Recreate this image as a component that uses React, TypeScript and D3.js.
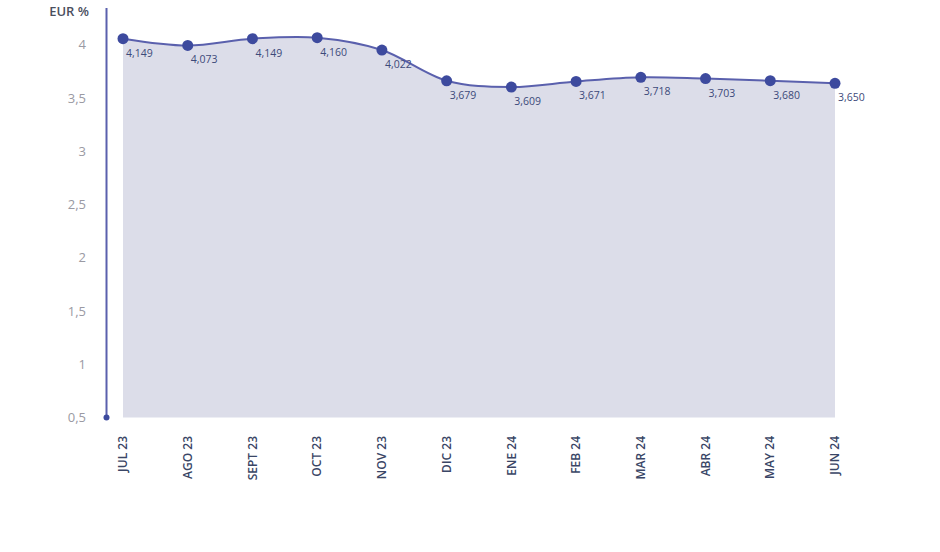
import React from "react";
import * as d3 from "d3";

const months = ["JUL 23", "AGO 23", "SEPT 23", "OCT 23", "NOV 23", "DIC 23", "ENE 24", "FEB 24", "MAR 24", "ABR 24", "MAY 24", "JUN 24"];
const rates = [4.149, 4.073, 4.149, 4.16, 4.022, 3.679, 3.609, 3.671, 3.718, 3.703, 3.68, 3.65];
const yTicks = [0.5, 1, 1.5, 2, 2.5, 3, 3.5, 4];
const yTitle = "EUR %";

const W = 940;
const H = 552;

const fmt = (v: number) => {
  const s = String(v);
  return s.replace(".", ",");
};
const fmtVal = (v: number) => v.toFixed(3).replace(".", ",");

export default function App() {
  const x = d3.scalePoint<string>().domain(months).range([123, 835]);
  // axis scale (tick positions)
  const yAxis = d3.scaleLinear().domain([0.5, 4]).range([417.5, 44.7]);
  // scale used for the plotted series (as drawn in the reference)
  const yLine = d3.scaleLinear().domain([3.5, 4.2]).range([96.8, 34.1]);

  const pts = months.map((m, i) => ({ m, v: rates[i], px: x(m) as number, py: yLine(rates[i]) }));

  const curve = d3.curveCardinal.tension(0);
  const line = d3.line<typeof pts[0]>().x((d) => d.px).y((d) => d.py).curve(curve);
  const area = d3
    .area<typeof pts[0]>()
    .x((d) => d.px)
    .y0(yAxis(0.5))
    .y1((d) => d.py)
    .curve(curve);

  const font = "'Open Sans', 'Noto Sans', sans-serif";

  return (
    <svg width={W} height={H} style={{ position: "absolute", left: 0, top: 0, background: "#fff" }} fontFamily={font}>
      <path d={area(pts) || ""} fill="#dcdde9" />
      <path d={line(pts) || ""} fill="none" stroke="#5a60ad" strokeWidth={2} />

      {/* y axis */}
      <line x1={106.5} x2={106.5} y1={8} y2={yAxis(0.5)} stroke="#5a60ad" strokeWidth={2} />
      <circle cx={106.5} cy={yAxis(0.5)} r={3} fill="#3d4a9e" />
      <text x={89} y={16} textAnchor="end" fontSize={13} fontWeight={600} fill="#4a4f5e">
        {yTitle}
      </text>
      {yTicks.map((t) => (
        <text key={t} x={86} y={yAxis(t)} dy="0.35em" textAnchor="end" fontSize={13} fill="#9a9aa3">
          {fmt(t)}
        </text>
      ))}

      {pts.map((p) => (
        <g key={p.m}>
          <circle cx={p.px} cy={p.py} r={5.5} fill="#3d4a9e" />
          <text x={p.px + 3} y={p.py + 18} fontSize={10.5} fill="#3d4a7a">
            {fmtVal(p.v)}
          </text>
          <text
            transform={`translate(${p.px},436) rotate(-90)`}
            textAnchor="end"
            dy="0.35em"
            fontSize={12}
            fontWeight={600}
            fill="#3a4666"
          >
            {p.m}
          </text>
        </g>
      ))}
    </svg>
  );
}
